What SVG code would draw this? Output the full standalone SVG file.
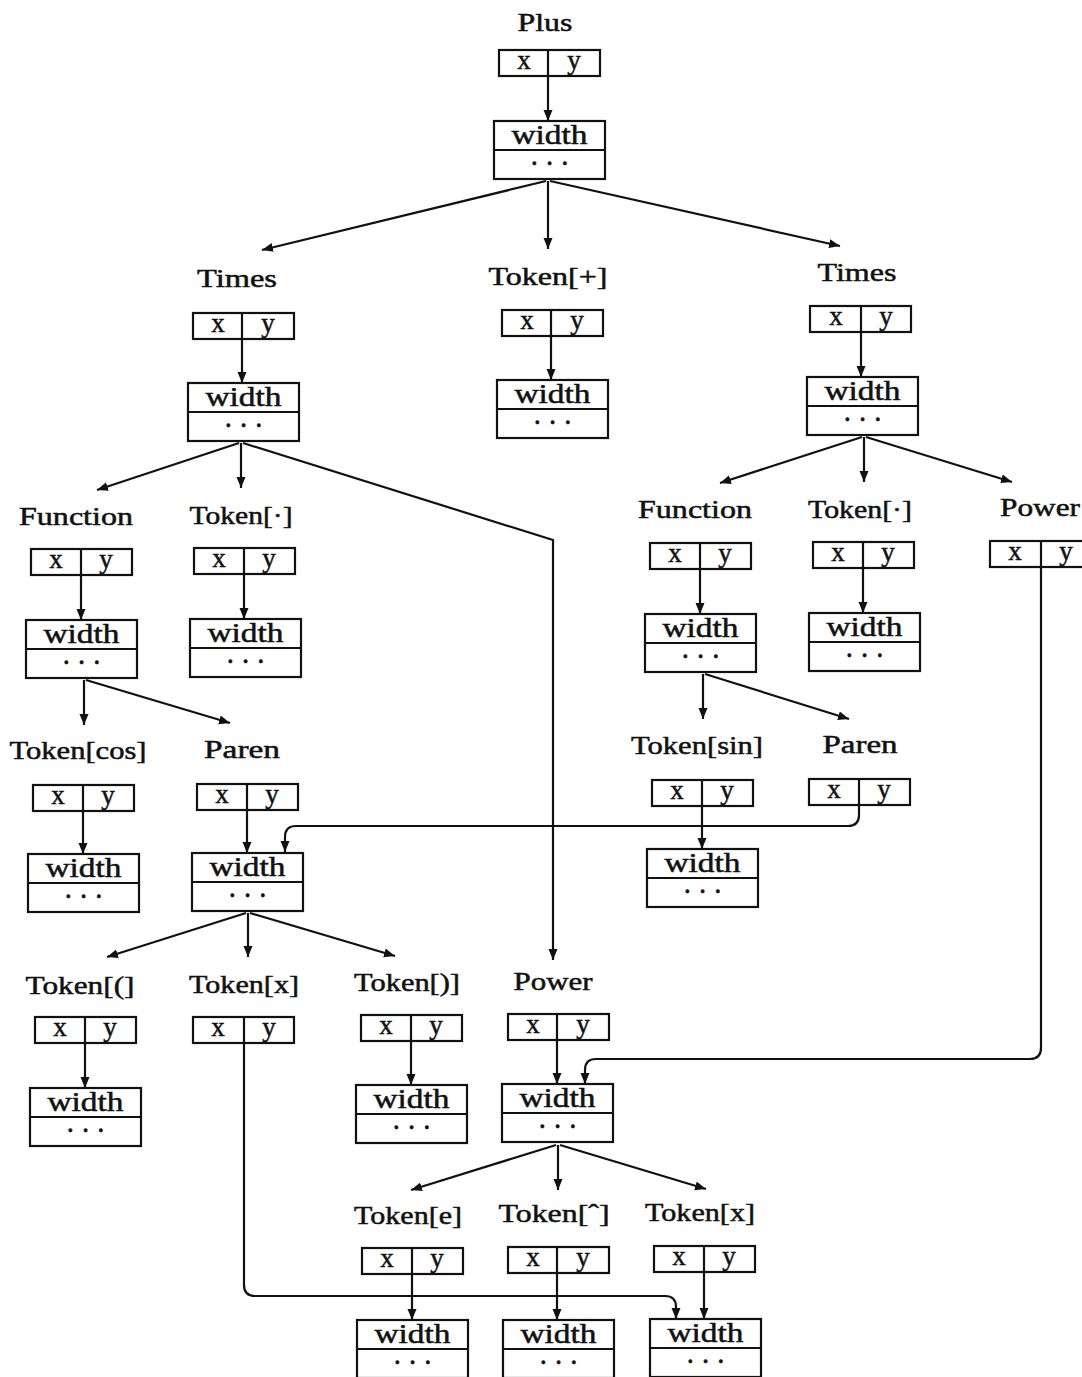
<svg xmlns="http://www.w3.org/2000/svg" width="1082" height="1377" viewBox="0 0 1082 1377">
  <style>
    .lbl { font-family: "Liberation Serif", "DejaVu Serif", serif; font-size: 25px; fill: #111; stroke: #111; stroke-width: 0.5; text-anchor: middle; }
    .t { font-family: "Liberation Serif", "DejaVu Serif", serif; font-size: 27px; fill: #111; stroke: #111; stroke-width: 0.5; text-anchor: middle; }
    .dots { font-family: "Liberation Serif", "DejaVu Serif", serif; font-size: 20px; font-weight: bold; letter-spacing: 1.8px; fill: #111; stroke: #111; stroke-width: 0.6; text-anchor: middle; }
    .bx { fill: #fff; stroke: #111; stroke-width: 2.2; }
    .ln { fill: none; stroke: #111; stroke-width: 2.2; }
    .c { fill: none; stroke: #111; stroke-width: 2.2; marker-end: url(#ah); }
  </style>
  <defs>
    <marker id="ah" markerUnits="userSpaceOnUse" markerWidth="13" markerHeight="10" refX="11" refY="4.5" orient="auto">
      <path d="M0,0 L11,4.5 L0,9 Z" fill="#111"/>
    </marker>
  </defs>
  <rect width="1082" height="1377" fill="#fff"/>

  <!-- connectors between nodes -->
  <g id="connectors">
    <!-- Plus -->
    <line class="c" x1="546" y1="181" x2="262" y2="250"/>
    <line class="c" x1="548" y1="181" x2="548" y2="249"/>
    <line class="c" x1="550" y1="181" x2="840" y2="246"/>
    <!-- Times (left) -->
    <line class="c" x1="239" y1="443" x2="97" y2="490"/>
    <line class="c" x1="241" y1="443" x2="241" y2="488"/>
    <polyline class="c" points="243,443 553,540 553,960"/>
    <!-- Times (right) -->
    <line class="c" x1="862" y1="437" x2="720" y2="483"/>
    <line class="c" x1="864" y1="437" x2="864" y2="482"/>
    <line class="c" x1="866" y1="437" x2="1012" y2="482"/>
    <!-- Function (left) -->
    <line class="c" x1="84" y1="680" x2="84" y2="725"/>
    <line class="c" x1="86" y1="680" x2="230" y2="723"/>
    <!-- Function (right) -->
    <line class="c" x1="703" y1="674" x2="703" y2="719"/>
    <line class="c" x1="705" y1="674" x2="849" y2="719"/>
    <!-- Paren (left) -->
    <line class="c" x1="246" y1="913" x2="107" y2="957"/>
    <line class="c" x1="248" y1="913" x2="248" y2="957"/>
    <line class="c" x1="250" y1="913" x2="395" y2="956"/>
    <!-- Power (middle) -->
    <line class="c" x1="556" y1="1145" x2="411" y2="1190"/>
    <line class="c" x1="558" y1="1145" x2="558" y2="1190"/>
    <line class="c" x1="560" y1="1145" x2="706" y2="1189"/>
    <!-- shared width records -->
    <path class="c" d="M859,805 V815 Q859,826 848,826 H296 Q285,826 285,837 V852"/>
    <path class="c" d="M1041,567 V1048 Q1041,1059 1030,1059 H596 Q585,1059 585,1070 V1084"/>
    <path class="c" d="M244,1043 V1285 Q244,1296 255,1296 H665 Q676,1296 676,1307 V1319"/>
  </g>

  <!-- Plus -->
  <g id="plus">
    <text class="lbl" x="545" y="31" textLength="55" lengthAdjust="spacingAndGlyphs">Plus</text>
    <rect class="bx" x="499" y="50" width="101" height="26"/>
    <line class="ln" x1="548" y1="50" x2="548" y2="76"/>
    <text class="t" x="524" y="69">x</text><text class="t" x="574" y="69">y</text>
    <line class="c" x1="548" y1="76" x2="548" y2="121"/>
    <rect class="bx" x="494" y="121" width="111" height="58"/>
    <line class="ln" x1="494" y1="150" x2="605" y2="150"/>
    <text class="t" x="549.5" y="144" textLength="76" lengthAdjust="spacingAndGlyphs">width</text>
    <text class="dots" x="550.5" y="170">· · ·</text>
  </g>

  <!-- Times (left) -->
  <g id="times-left">
    <text class="lbl" x="237" y="287" textLength="80" lengthAdjust="spacingAndGlyphs">Times</text>
    <rect class="bx" x="193" y="313" width="101" height="26"/>
    <line class="ln" x1="242" y1="313" x2="242" y2="339"/>
    <text class="t" x="218" y="332">x</text><text class="t" x="268" y="332">y</text>
    <line class="c" x1="242" y1="339" x2="242" y2="383"/>
    <rect class="bx" x="188" y="383" width="111" height="58"/>
    <line class="ln" x1="188" y1="412" x2="299" y2="412"/>
    <text class="t" x="243.5" y="406" textLength="76" lengthAdjust="spacingAndGlyphs">width</text>
    <text class="dots" x="244.5" y="432">· · ·</text>
  </g>

  <!-- Token[+] -->
  <g id="token-plus">
    <text class="lbl" x="548" y="285" textLength="119" lengthAdjust="spacingAndGlyphs">Token[+]</text>
    <rect class="bx" x="502" y="310" width="101" height="26"/>
    <line class="ln" x1="551" y1="310" x2="551" y2="336"/>
    <text class="t" x="527" y="329">x</text><text class="t" x="577" y="329">y</text>
    <line class="c" x1="551" y1="336" x2="551" y2="380"/>
    <rect class="bx" x="497" y="380" width="111" height="58"/>
    <line class="ln" x1="497" y1="409" x2="608" y2="409"/>
    <text class="t" x="552.5" y="403" textLength="76" lengthAdjust="spacingAndGlyphs">width</text>
    <text class="dots" x="553.5" y="429">· · ·</text>
  </g>

  <!-- Times (right) -->
  <g id="times-right">
    <text class="lbl" x="857" y="281" textLength="79" lengthAdjust="spacingAndGlyphs">Times</text>
    <rect class="bx" x="810" y="306" width="101" height="26"/>
    <line class="ln" x1="861" y1="306" x2="861" y2="332"/>
    <text class="t" x="836" y="325">x</text><text class="t" x="886" y="325">y</text>
    <line class="c" x1="861" y1="332" x2="861" y2="377"/>
    <rect class="bx" x="807" y="377" width="111" height="58"/>
    <line class="ln" x1="807" y1="406" x2="918" y2="406"/>
    <text class="t" x="862.5" y="400" textLength="76" lengthAdjust="spacingAndGlyphs">width</text>
    <text class="dots" x="863.5" y="426">· · ·</text>
  </g>

  <!-- Function (left) -->
  <g id="function-left">
    <text class="lbl" x="76" y="525" textLength="114" lengthAdjust="spacingAndGlyphs">Function</text>
    <rect class="bx" x="31" y="549" width="101" height="26"/>
    <line class="ln" x1="81" y1="549" x2="81" y2="575"/>
    <text class="t" x="56" y="568">x</text><text class="t" x="106" y="568">y</text>
    <line class="c" x1="81" y1="575" x2="81" y2="620"/>
    <rect class="bx" x="26" y="620" width="111" height="58"/>
    <line class="ln" x1="26" y1="649" x2="137" y2="649"/>
    <text class="t" x="81.5" y="643" textLength="76" lengthAdjust="spacingAndGlyphs">width</text>
    <text class="dots" x="82.5" y="669">· · ·</text>
  </g>

  <!-- Token[·] (left) -->
  <g id="token-dot-left">
    <text class="lbl" x="241" y="524" textLength="103" lengthAdjust="spacingAndGlyphs">Token[·]</text>
    <rect class="bx" x="194" y="548" width="101" height="26"/>
    <line class="ln" x1="244" y1="548" x2="244" y2="574"/>
    <text class="t" x="219" y="567">x</text><text class="t" x="269" y="567">y</text>
    <line class="c" x1="244" y1="574" x2="244" y2="619"/>
    <rect class="bx" x="190" y="619" width="111" height="58"/>
    <line class="ln" x1="190" y1="648" x2="301" y2="648"/>
    <text class="t" x="245.5" y="642" textLength="76" lengthAdjust="spacingAndGlyphs">width</text>
    <text class="dots" x="246.5" y="668">· · ·</text>
  </g>

  <!-- Function (right) -->
  <g id="function-right">
    <text class="lbl" x="695" y="518" textLength="114" lengthAdjust="spacingAndGlyphs">Function</text>
    <rect class="bx" x="650" y="543" width="101" height="26"/>
    <line class="ln" x1="700" y1="543" x2="700" y2="569"/>
    <text class="t" x="675" y="562">x</text><text class="t" x="725" y="562">y</text>
    <line class="c" x1="700" y1="569" x2="700" y2="614"/>
    <rect class="bx" x="645" y="614" width="111" height="58"/>
    <line class="ln" x1="645" y1="643" x2="756" y2="643"/>
    <text class="t" x="700.5" y="637" textLength="76" lengthAdjust="spacingAndGlyphs">width</text>
    <text class="dots" x="701.5" y="663">· · ·</text>
  </g>

  <!-- Token[·] (right) -->
  <g id="token-dot-right">
    <text class="lbl" x="860" y="518" textLength="104" lengthAdjust="spacingAndGlyphs">Token[·]</text>
    <rect class="bx" x="813" y="542" width="101" height="26"/>
    <line class="ln" x1="863" y1="542" x2="863" y2="568"/>
    <text class="t" x="838" y="561">x</text><text class="t" x="888" y="561">y</text>
    <line class="c" x1="863" y1="568" x2="863" y2="613"/>
    <rect class="bx" x="809" y="613" width="111" height="58"/>
    <line class="ln" x1="809" y1="642" x2="920" y2="642"/>
    <text class="t" x="864.5" y="636" textLength="76" lengthAdjust="spacingAndGlyphs">width</text>
    <text class="dots" x="865.5" y="662">· · ·</text>
  </g>

  <!-- Power (right edge) -->
  <g id="power-right">
    <text class="lbl" x="1040" y="516" textLength="80" lengthAdjust="spacingAndGlyphs">Power</text>
    <rect class="bx" x="990" y="541" width="101" height="26"/>
    <line class="ln" x1="1041" y1="541" x2="1041" y2="567"/>
    <text class="t" x="1015" y="560">x</text><text class="t" x="1066" y="560">y</text>
  </g>

  <!-- Token[cos] -->
  <g id="token-cos">
    <text class="lbl" x="78" y="759" textLength="137" lengthAdjust="spacingAndGlyphs">Token[cos]</text>
    <rect class="bx" x="33" y="785" width="101" height="26"/>
    <line class="ln" x1="83" y1="785" x2="83" y2="811"/>
    <text class="t" x="58" y="804">x</text><text class="t" x="108" y="804">y</text>
    <line class="c" x1="83" y1="811" x2="83" y2="854"/>
    <rect class="bx" x="28" y="854" width="111" height="58"/>
    <line class="ln" x1="28" y1="883" x2="139" y2="883"/>
    <text class="t" x="83.5" y="877" textLength="76" lengthAdjust="spacingAndGlyphs">width</text>
    <text class="dots" x="84.5" y="903">· · ·</text>
  </g>

  <!-- Paren (left) -->
  <g id="paren-left">
    <text class="lbl" x="242" y="758" textLength="76" lengthAdjust="spacingAndGlyphs">Paren</text>
    <rect class="bx" x="197" y="784" width="101" height="26"/>
    <line class="ln" x1="247" y1="784" x2="247" y2="810"/>
    <text class="t" x="222" y="803">x</text><text class="t" x="272" y="803">y</text>
    <line class="c" x1="247" y1="810" x2="247" y2="853"/>
    <rect class="bx" x="192" y="853" width="111" height="58"/>
    <line class="ln" x1="192" y1="882" x2="303" y2="882"/>
    <text class="t" x="247.5" y="876" textLength="76" lengthAdjust="spacingAndGlyphs">width</text>
    <text class="dots" x="248.5" y="902">· · ·</text>
  </g>

  <!-- Token[sin] -->
  <g id="token-sin">
    <text class="lbl" x="697" y="754" textLength="132" lengthAdjust="spacingAndGlyphs">Token[sin]</text>
    <rect class="bx" x="652" y="780" width="101" height="26"/>
    <line class="ln" x1="702" y1="780" x2="702" y2="806"/>
    <text class="t" x="677" y="799">x</text><text class="t" x="727" y="799">y</text>
    <line class="c" x1="702" y1="806" x2="702" y2="849"/>
    <rect class="bx" x="647" y="849" width="111" height="58"/>
    <line class="ln" x1="647" y1="878" x2="758" y2="878"/>
    <text class="t" x="702.5" y="872" textLength="76" lengthAdjust="spacingAndGlyphs">width</text>
    <text class="dots" x="703.5" y="898">· · ·</text>
  </g>

  <!-- Paren (right) -->
  <g id="paren-right">
    <text class="lbl" x="860" y="753" textLength="75" lengthAdjust="spacingAndGlyphs">Paren</text>
    <rect class="bx" x="809" y="779" width="101" height="26"/>
    <line class="ln" x1="859" y1="779" x2="859" y2="805"/>
    <text class="t" x="834" y="798">x</text><text class="t" x="884" y="798">y</text>
  </g>

  <!-- Token[(] -->
  <g id="token-lparen">
    <text class="lbl" x="80" y="994" textLength="109" lengthAdjust="spacingAndGlyphs">Token[(]</text>
    <rect class="bx" x="35" y="1017" width="101" height="26"/>
    <line class="ln" x1="85" y1="1017" x2="85" y2="1043"/>
    <text class="t" x="60" y="1036">x</text><text class="t" x="110" y="1036">y</text>
    <line class="c" x1="85" y1="1043" x2="85" y2="1088"/>
    <rect class="bx" x="30" y="1088" width="111" height="58"/>
    <line class="ln" x1="30" y1="1117" x2="141" y2="1117"/>
    <text class="t" x="85.5" y="1111" textLength="76" lengthAdjust="spacingAndGlyphs">width</text>
    <text class="dots" x="86.5" y="1137">· · ·</text>
  </g>

  <!-- Token[x] (middle) -->
  <g id="token-x-mid">
    <text class="lbl" x="244" y="993" textLength="110" lengthAdjust="spacingAndGlyphs">Token[x]</text>
    <rect class="bx" x="193" y="1017" width="101" height="26"/>
    <line class="ln" x1="244" y1="1017" x2="244" y2="1043"/>
    <text class="t" x="218" y="1036">x</text><text class="t" x="269" y="1036">y</text>
  </g>

  <!-- Token[)] -->
  <g id="token-rparen">
    <text class="lbl" x="407" y="991" textLength="106" lengthAdjust="spacingAndGlyphs">Token[)]</text>
    <rect class="bx" x="361" y="1015" width="101" height="26"/>
    <line class="ln" x1="411" y1="1015" x2="411" y2="1041"/>
    <text class="t" x="386" y="1034">x</text><text class="t" x="436" y="1034">y</text>
    <line class="c" x1="411" y1="1041" x2="411" y2="1085"/>
    <rect class="bx" x="356" y="1085" width="111" height="58"/>
    <line class="ln" x1="356" y1="1114" x2="467" y2="1114"/>
    <text class="t" x="411.5" y="1108" textLength="76" lengthAdjust="spacingAndGlyphs">width</text>
    <text class="dots" x="412.5" y="1134">· · ·</text>
  </g>

  <!-- Power (middle) -->
  <g id="power-mid">
    <text class="lbl" x="553" y="990" textLength="79" lengthAdjust="spacingAndGlyphs">Power</text>
    <rect class="bx" x="508" y="1014" width="101" height="26"/>
    <line class="ln" x1="557" y1="1014" x2="557" y2="1040"/>
    <text class="t" x="533" y="1033">x</text><text class="t" x="583" y="1033">y</text>
    <line class="c" x1="557" y1="1040" x2="557" y2="1084"/>
    <rect class="bx" x="502" y="1084" width="111" height="58"/>
    <line class="ln" x1="502" y1="1113" x2="613" y2="1113"/>
    <text class="t" x="557.5" y="1107" textLength="76" lengthAdjust="spacingAndGlyphs">width</text>
    <text class="dots" x="558.5" y="1133">· · ·</text>
  </g>

  <!-- Token[e] -->
  <g id="token-e">
    <text class="lbl" x="408" y="1224" textLength="108" lengthAdjust="spacingAndGlyphs">Token[e]</text>
    <rect class="bx" x="362" y="1248" width="101" height="26"/>
    <line class="ln" x1="412" y1="1248" x2="412" y2="1274"/>
    <text class="t" x="387" y="1267">x</text><text class="t" x="437" y="1267">y</text>
    <line class="c" x1="412" y1="1274" x2="412" y2="1320"/>
    <rect class="bx" x="357" y="1320" width="111" height="58"/>
    <line class="ln" x1="357" y1="1349" x2="468" y2="1349"/>
    <text class="t" x="412.5" y="1343" textLength="76" lengthAdjust="spacingAndGlyphs">width</text>
    <text class="dots" x="413.5" y="1369">· · ·</text>
  </g>

  <!-- Token[^] -->
  <g id="token-caret">
    <text class="lbl" x="554" y="1222" textLength="111" lengthAdjust="spacingAndGlyphs">Token[ˆ]</text>
    <rect class="bx" x="508" y="1247" width="101" height="26"/>
    <line class="ln" x1="557" y1="1247" x2="557" y2="1273"/>
    <text class="t" x="533" y="1266">x</text><text class="t" x="583" y="1266">y</text>
    <line class="c" x1="557" y1="1273" x2="557" y2="1320"/>
    <rect class="bx" x="503" y="1320" width="111" height="58"/>
    <line class="ln" x1="503" y1="1349" x2="614" y2="1349"/>
    <text class="t" x="558.5" y="1343" textLength="76" lengthAdjust="spacingAndGlyphs">width</text>
    <text class="dots" x="559.5" y="1369">· · ·</text>
  </g>

  <!-- Token[x] (bottom) -->
  <g id="token-x-bottom">
    <text class="lbl" x="700" y="1221" textLength="110" lengthAdjust="spacingAndGlyphs">Token[x]</text>
    <rect class="bx" x="654" y="1246" width="101" height="26"/>
    <line class="ln" x1="704" y1="1246" x2="704" y2="1272"/>
    <text class="t" x="679" y="1265">x</text><text class="t" x="729" y="1265">y</text>
    <line class="c" x1="704" y1="1272" x2="704" y2="1319"/>
    <rect class="bx" x="650" y="1319" width="111" height="58"/>
    <line class="ln" x1="650" y1="1348" x2="761" y2="1348"/>
    <text class="t" x="705.5" y="1342" textLength="76" lengthAdjust="spacingAndGlyphs">width</text>
    <text class="dots" x="706.5" y="1368">· · ·</text>
  </g>
</svg>
